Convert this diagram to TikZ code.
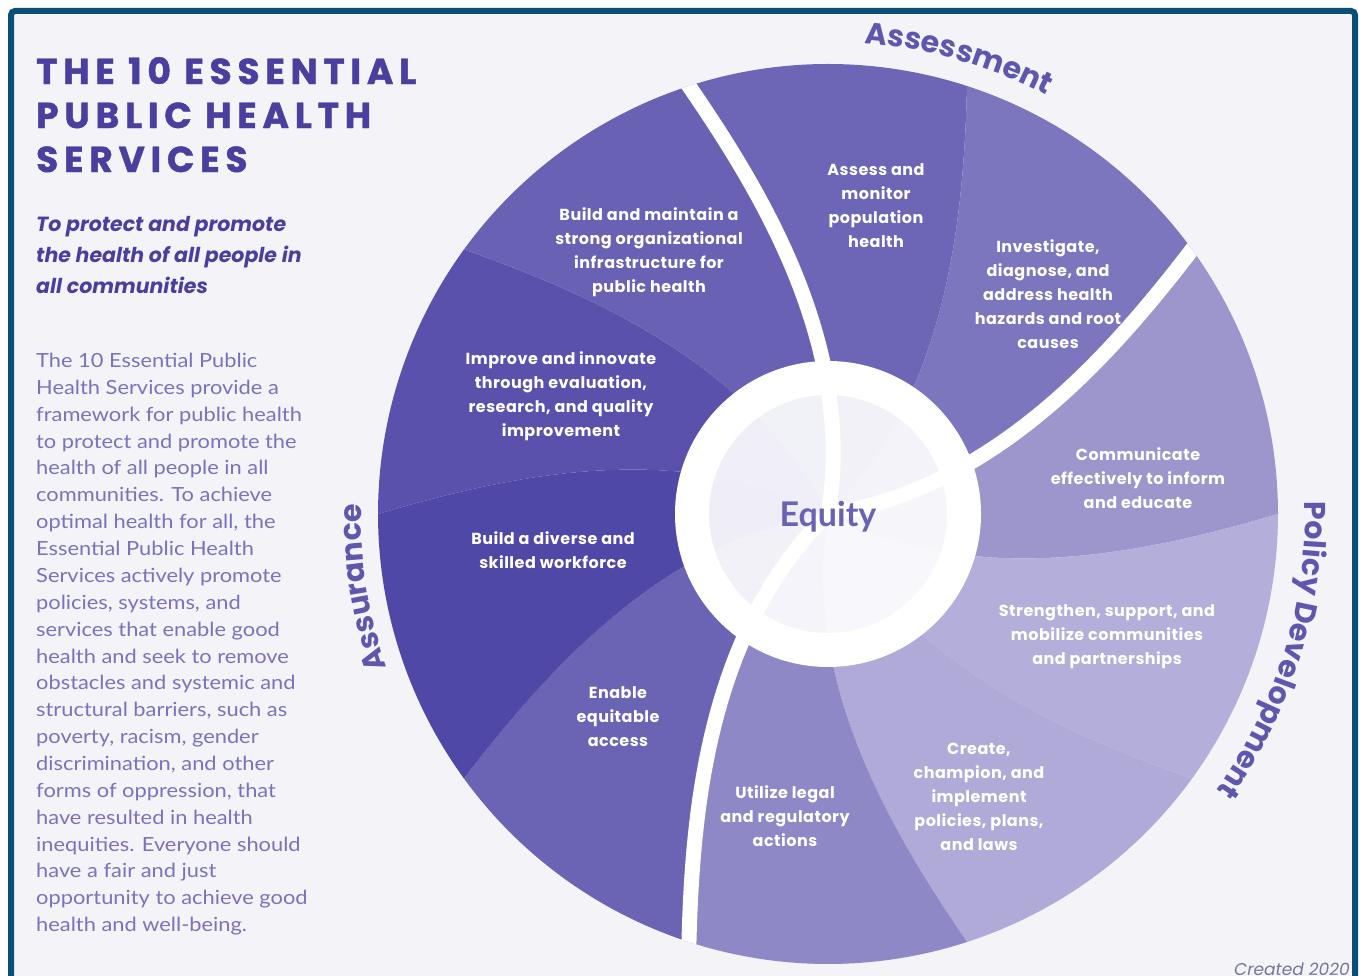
\documentclass[tikz,border=0pt]{standalone}
\usepackage{fontspec}
\setmainfont{Lato}
\newfontfamily\headfont{Poppins}
\newfontfamily\titlefont{Poppins}[LetterSpace=16,FakeBold=1.2]
\newfontfamily\labelfont{Poppins}[LetterSpace=3]
\newfontfamily\bodyfont{Lato}[FakeStretch=1.12]
\usetikzlibrary{decorations.text}

\definecolor{frameblue}{HTML}{0B5074}
\definecolor{paper}{HTML}{F3F3F8}
\definecolor{titlepurple}{HTML}{4A3F9E}
\definecolor{bodypurple}{HTML}{7A73BC}
\definecolor{grouppurple}{HTML}{5F57AE}
\definecolor{equitypurple}{HTML}{6A62B4}
\definecolor{createdgray}{HTML}{76769A}
\definecolor{segA}{HTML}{6D66B6}
\definecolor{segB}{HTML}{7C76BE}
\definecolor{segC}{HTML}{9C96CD}
\definecolor{segD}{HTML}{B4AFDA}
\definecolor{segE}{HTML}{AFAAD7}
\definecolor{segF}{HTML}{8E88C6}
\definecolor{segG}{HTML}{6B64B4}
\definecolor{segH}{HTML}{5048A6}
\definecolor{segI}{HTML}{5951AB}
\definecolor{segJ}{HTML}{6961B3}

\newcommand{\servicewedge}[2]{%
  \pgfmathsetmacro\wedgeend{#1+36}%
  \fill[#2] plot[domain=0:450,samples=30,variable=\r] ({#1-17*(1-\r/450)-11*(1-\r/450)^2}:\r)
    arc[start angle=#1,end angle=\wedgeend,radius=450]
    -- plot[domain=450:0,samples=30,variable=\r] ({\wedgeend-17*(1-\r/450)-11*(1-\r/450)^2}:\r) -- cycle;}

\begin{document}
\begin{tikzpicture}[x=1pt,y=1pt,
    service/.style={align=center,text=white,inner sep=0,font=\labelfont\bfseries\fontsize{16}{24}\selectfont},
    grouplabel/.style={decorate,decoration={text along path,text align=center,text color=grouppurple,
      text={|\headfont\bfseries\fontsize{30}{30}\selectfont|#1}}}]
\useasboundingbox (0,0) rectangle (1359,976);
\fill[white] (0,0) rectangle (1359,976);
\filldraw[fill=paper,draw=frameblue,line width=6,rounded corners=4] (11,-30) rectangle (1355,965);

\node[anchor=north west,inner sep=0,align=left,text=titlepurple,
  font=\titlefont\bfseries\fontsize{36}{44}\selectfont] (title) at (36,919)
  {THE 10 ESSENTIAL\\PUBLIC HEALTH\\SERVICES};
\node[anchor=north west,inner sep=0,align=left,text=titlepurple,
  font=\headfont\bfseries\itshape\fontsize{20.5}{31}\selectfont] (motto) at (36,760)
  {To protect and promote\\the health of all people in\\all communities};
\node[anchor=north west,inner sep=0,align=left,text=bodypurple,
  font=\bodyfont\fontsize{19.5}{26.86}\selectfont] (about) at (36,623)
  {The 10 Essential Public\\Health Services provide a\\framework for public health\\
   to protect and promote the\\health of all people in all\\communities. To achieve\\
   optimal health for all, the\\Essential Public Health\\Services actively promote\\
   policies, systems, and\\services that enable good\\health and seek to remove\\
   obstacles and systemic and\\structural barriers, such as\\poverty, racism, gender\\
   discrimination, and other\\forms of oppression, that\\have resulted in health\\
   inequities. Everyone should\\have a fair and just\\opportunity to achieve good\\
   health and well-being.};

\begin{scope}[shift={(828,462)}]
  \foreach \a/\c in {72/segA,36/segB,0/segC,-36/segD,-72/segE,-108/segF,-144/segG,-180/segH,-216/segI,-252/segJ}
    {\servicewedge{\a}{\c}}
  \begin{scope}
    \clip (0,0) circle (120);
    \fill[paper!60!segA!12!white] (0,0) circle (120);
    \foreach \a/\c in {72/segA,36/segB,0/segC,-36/segD,-72/segE,-108/segF,-144/segG,-180/segH,-216/segI,-252/segJ}
      {\servicewedge{\a}{\c!9!white}}
  \end{scope}
  \draw[white,line width=34] (0,0) circle (136);
  \begin{scope}
    \clip (0,0) circle (450);
    \foreach \a in {108,36,-108}
      \draw[white,line width=15] plot[domain=0:470,samples=40,variable=\r] ({\a-17*(1-\r/450)-11*(1-\r/450)^2}:\r);
  \end{scope}
  \node[text=equitypurple,font=\bfseries\fontsize{34}{34}\selectfont] (equity) at (0,-3) {Equity};

  \path[grouplabel=Assessment] (100:472) arc[start angle=100,end angle=48,radius=472];
  \path[grouplabel=Policy Development] (10:477) arc[start angle=10,end angle=-44,radius=477];
  \path[grouplabel=Assurance] (210:467) arc[start angle=210,end angle=168,radius=467];
\end{scope}

\node[service] (assess) at (876,770) {Assess and\\monitor\\population\\health};
\node[service] (investigate) at (1048,682) {Investigate,\\diagnose, and\\address health\\hazards and root\\causes};
\node[service] (communicate) at (1138,498) {Communicate\\effectively to inform\\and educate};
\node[service] (strengthen) at (1107,339) {Strengthen, support, and\\mobilize communities\\and partnerships};
\node[service] (create) at (979,179) {Create,\\champion, and\\implement\\policies, plans,\\and laws};
\node[service] (utilize) at (785,160) {Utilize legal\\and regulatory\\actions};
\node[service] (enable) at (618,259) {Enable\\equitable\\access};
\node[service] (workforce) at (553,426) {Build a diverse and\\skilled workforce};
\node[service] (improve) at (561,580) {Improve and innovate\\through evaluation,\\research, and quality\\improvement};
\node[service] (infrastructure) at (649,724) {Build and maintain a\\strong organizational\\infrastructure for\\public health};

\node[anchor=base east,inner sep=0,text=createdgray,font=\headfont\itshape\fontsize{17}{17}\selectfont] (created) at (1350,0) {Created 2020};
\end{tikzpicture}
\end{document}
